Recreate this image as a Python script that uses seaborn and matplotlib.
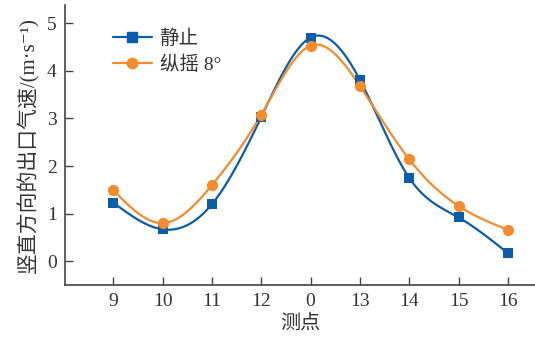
import numpy as np
import pandas as pd
import matplotlib
matplotlib.use("Agg")
import matplotlib.pyplot as plt
import seaborn as sns
from matplotlib.lines import Line2D

# Measuring points along the outlet, and vertical outlet velocity (m/s)
points = ["9", "10", "11", "12", "0", "13", "14", "15", "16"]
still = [1.23, 0.67, 1.20, 3.03, 4.70, 3.81, 1.75, 0.92, 0.17]
pitch8 = [1.49, 0.80, 1.60, 3.08, 4.53, 3.68, 2.14, 1.16, 0.66]
series_names = ["静止", "纵摇 8°"]
colors = ["#0B5CAB", "#F48B2C"]
markers = ["s", "o"]

sns.set_theme(style="ticks")
plt.rcParams["font.family"] = ["Liberation Serif", "Noto Sans CJK SC", "DejaVu Serif"]


def natural_spline(x, y, n=300):
    """Natural cubic spline through (x, y), sampled on n points."""
    x = np.asarray(x, float)
    y = np.asarray(y, float)
    k = len(x)
    h = np.diff(x)
    A = np.zeros((k, k))
    b = np.zeros(k)
    A[0, 0] = A[-1, -1] = 1.0
    for i in range(1, k - 1):
        A[i, i - 1] = h[i - 1]
        A[i, i] = 2 * (h[i - 1] + h[i])
        A[i, i + 1] = h[i]
        b[i] = 3 * ((y[i + 1] - y[i]) / h[i] - (y[i] - y[i - 1]) / h[i - 1])
    c = np.linalg.solve(A, b)
    xs = np.linspace(x[0], x[-1], n)
    idx = np.clip(np.searchsorted(x, xs) - 1, 0, k - 2)
    dx = xs - x[idx]
    bb = (y[idx + 1] - y[idx]) / h[idx] - h[idx] * (2 * c[idx] + c[idx + 1]) / 3
    dd = (c[idx + 1] - c[idx]) / (3 * h[idx])
    ys = y[idx] + bb * dx + c[idx] * dx ** 2 + dd * dx ** 3
    return xs, ys


pos = np.arange(len(points))
frames_pts = []
frames_curve = []
for name, vals in zip(series_names, [still, pitch8]):
    frames_pts.append(pd.DataFrame({"pos": pos, "v": vals, "series": name}))
    xs, ys = natural_spline(pos, vals)
    frames_curve.append(pd.DataFrame({"pos": xs, "v": ys, "series": name}))
pts = pd.concat(frames_pts, ignore_index=True)
curve = pd.concat(frames_curve, ignore_index=True)

fig = plt.figure(figsize=(5.35, 3.43), dpi=100)
ax = fig.add_axes([0.1215, 0.169, 0.8785, 0.816])

palette = dict(zip(series_names, colors))
sns.lineplot(data=curve, x="pos", y="v", hue="series", palette=palette,
             linewidth=1.6, legend=False, ax=ax, sort=False, estimator=None)
for name, m, ms in zip(series_names, markers, [55, 65]):
    sub = pts[pts["series"] == name]
    sns.scatterplot(data=sub, x="pos", y="v", color=palette[name], marker=m,
                    s=ms, linewidth=0, legend=False, ax=ax, zorder=3)

ax.set_xlim(-0.98, 8.55)
ax.set_ylim(-0.5, 5.38)
ax.set_xticks(pos)
ax.set_xticklabels(points)
ax.set_yticks(np.arange(0, 6, 1))
ax.tick_params(direction="in", length=6, width=1.0, color="#444444",
               labelsize=14, labelcolor="#333333", pad=6)
for side in ["top", "right"]:
    ax.spines[side].set_visible(False)
for side in ["left", "bottom"]:
    ax.spines[side].set_color("#444444")
    ax.spines[side].set_linewidth(1.2)

ax.set_xlabel("测点", fontsize=14.5, color="#333333", labelpad=3)
ax.set_ylabel("竖直方向的出口气速/(m·s⁻¹)", fontsize=15, color="#333333",
              labelpad=5)

handles = [Line2D([], [], color=c, marker=m, markersize=ms, linewidth=1.6)
           for c, m, ms in zip(colors, markers, [6.5, 7.5])]
ax.legend(handles, series_names, loc="upper left", bbox_to_anchor=(0.065, 0.975),
          frameon=False, fontsize=14, handlelength=2.0, handletextpad=0.4,
          labelspacing=0.4, labelcolor="#333333")

fig.savefig("out.png", dpi=100)
